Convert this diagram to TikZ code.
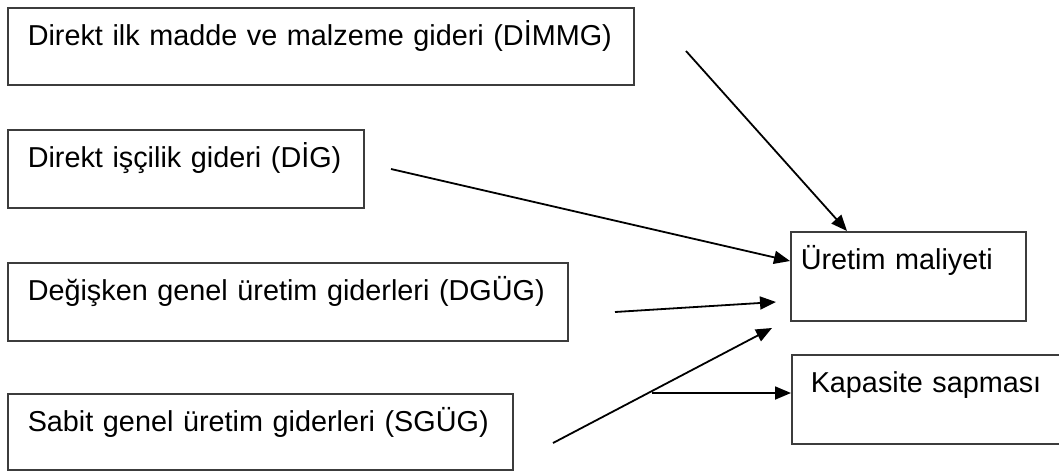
\documentclass[tikz,border=0pt]{standalone}
\usepackage{fontspec}
\setmainfont{Liberation Sans}
\usetikzlibrary{arrows.meta}
\definecolor{framegray}{HTML}{3C3C3C}
\newcommand{\boxfont}{\fontsize{28.8}{34}\selectfont}
\tikzset{
  costbox/.style={draw=framegray, line width=1.5pt, anchor=north west,
    inner ysep=0pt, inner xsep=20pt, text height=38pt, align=left,
    font=\boxfont},
  flow/.style={line width=1.8pt, draw=black,
    -{Triangle[length=16pt, width=13pt]}},
}
\begin{document}
\begin{tikzpicture}[x=1pt, y=-1pt]
  \useasboundingbox (0,0) rectangle (1059,471);
  \fill[white] (0,0) rectangle (1059,471);
  \clip (0,0) rectangle (1059,471);

  % cost components
  \node[costbox, text width=586pt, text depth=39pt] (dimmg) at (7,7)
    {Direkt ilk madde ve malzeme gideri (DİMMG)};
  \node[costbox, text width=316pt, text depth=40pt] (dig) at (7,129)
    {Direkt işçilik gideri (DİG)};
  \node[costbox, text width=520pt, text depth=40pt] (dgug) at (7,262)
    {Değişken genel üretim giderleri (DGÜG)};
  \node[costbox, text width=465pt, text depth=38pt] (sgug) at (7,393)
    {Sabit genel üretim giderleri (SGÜG)};

  % results
  \node[costbox, inner xsep=10pt, text width=215pt, text depth=51pt] (maliyet) at (790,231)
    {Üretim maliyeti};
  \node[costbox, inner xsep=19pt, text width=252pt, text depth=51pt] (sapma) at (791,354)
    {Kapasite sapması};

  % arrow end points
  \coordinate (s1) at (686,51);
  \coordinate (s2) at (391,169);
  \coordinate (s3) at (615,312);
  \coordinate (t3) at (776,302);
  \coordinate (s4) at (553,443);
  \coordinate (t4) at (772,328);
  \coordinate (s5) at (652,393);

  \draw[flow] (s1) -- (maliyet.north west -| 847,0);
  \draw[flow] (s2) -- (maliyet.west |- 0,261);
  \draw[flow] (s3) -- (t3);
  \draw[flow] (s4) -- (t4);
  \draw[flow] (s5) -- (sapma.west |- s5);
\end{tikzpicture}
\end{document}
